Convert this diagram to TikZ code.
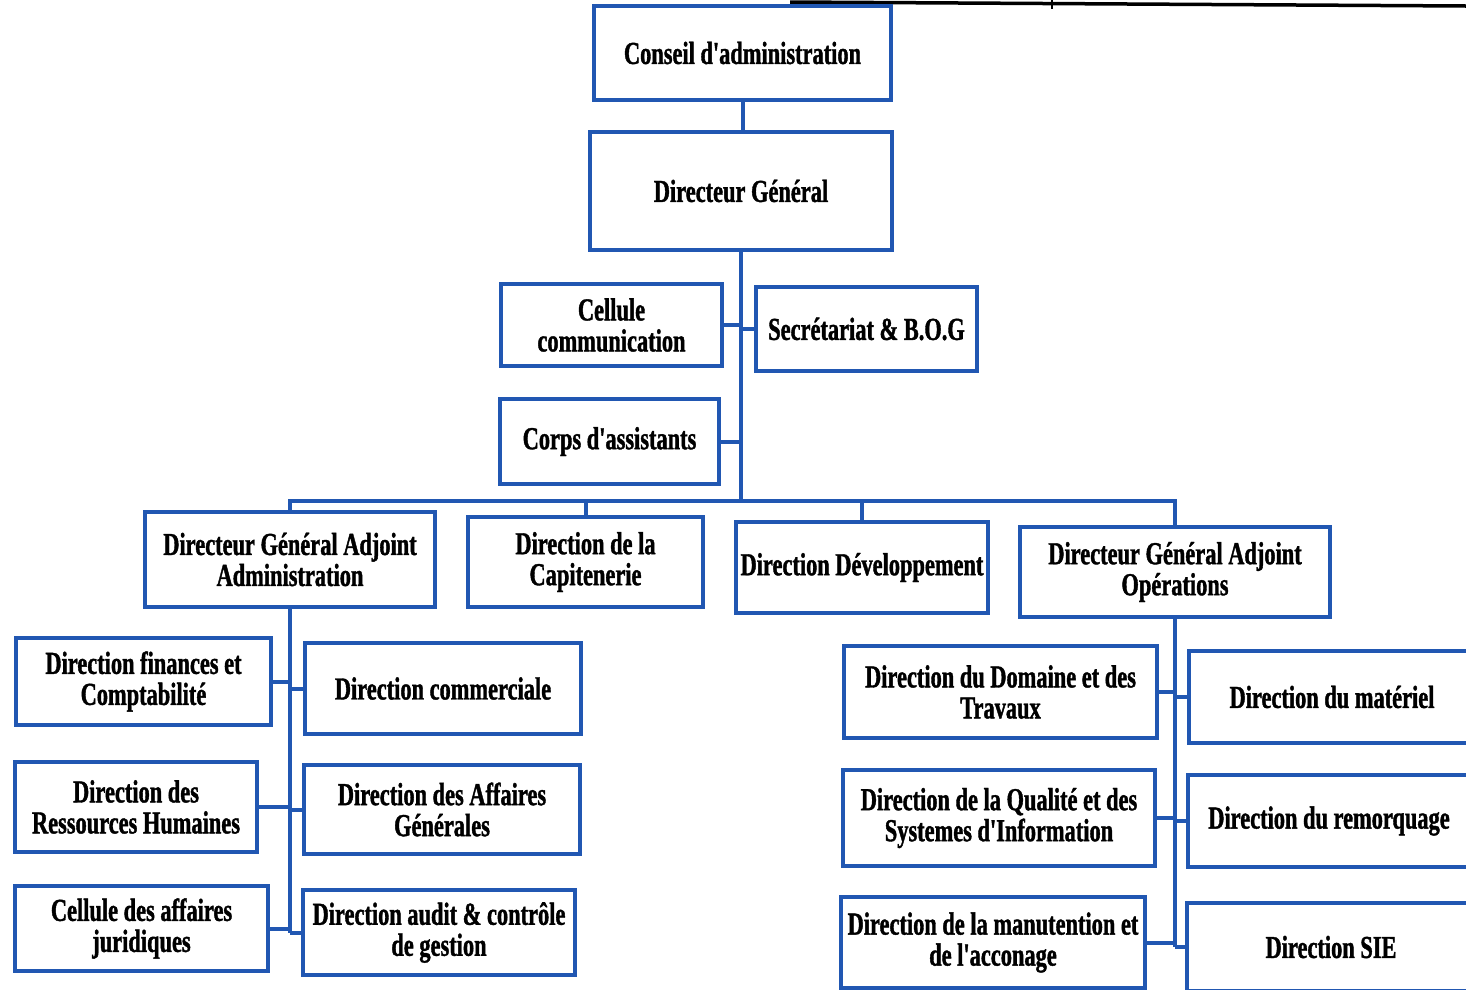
\documentclass[tikz,border=0pt]{standalone}
\usepackage{fontspec}
\newfontfamily\orgfont[FakeStretch=0.70,FakeBold=1.2,UprightFont=* Bold]{Liberation Serif}
\definecolor{orgblue}{RGB}{33,87,178}
\begin{document}
\begin{tikzpicture}[x=1pt,y=-1pt,
  box/.style={draw=orgblue, line width=4pt, align=center, inner sep=0pt,
    fill=white, font=\orgfont\fontsize{32}{31}\selectfont},
  link/.style={draw=orgblue, line width=4pt}]
\useasboundingbox (0,0) rectangle (1466,989);
\clip (0,0) rectangle (1466,989);
\fill[white] (0,0) rectangle (1466,989);

% rule of the page heading above the chart
\draw[line width=3.5pt] (790,2) -- (1466,6);
\draw[line width=2pt] (1052,0) -- (1052,9);

% top of the hierarchy
\node[box, minimum width=297, minimum height=94] (ca) at (742.5,53) {Conseil d'administration};
\node[box, minimum width=302, minimum height=118] (dg) at (741,191) {Directeur Général};

% staff units attached to the general director
\node[box, minimum width=221, minimum height=82] (cc) at (611.5,325) {Cellule\\communication};
\node[box, minimum width=221, minimum height=84] (sec) at (866.5,329) {Secrétariat \& B.O.G};
\node[box, minimum width=219, minimum height=85] (corps) at (609.5,441.5) {Corps d'assistants};

% second level
\node[box, minimum width=290, minimum height=95] (dgaa) at (290,559.5) {Directeur Général Adjoint\\Administration};
\node[box, minimum width=235, minimum height=90] (cap) at (585.5,562) {Direction de la\\Capitenerie};
\node[box, minimum width=252, minimum height=91] (dev) at (862,567.5) {Direction Développement};
\node[box, minimum width=310, minimum height=90] (dgao) at (1175,572) {Directeur Général Adjoint\\Opérations};

% administration branch
\node[box, minimum width=255, minimum height=87] (fin) at (143.5,681.5) {Direction finances et\\Comptabilité};
\node[box, minimum width=276, minimum height=91] (com) at (443,688.5) {Direction commerciale};
\node[box, minimum width=242, minimum height=90] (rh) at (136,807) {Direction des\\Ressources Humaines};
\node[box, minimum width=276, minimum height=89] (ag) at (442,809.5) {Direction des Affaires\\Générales};
\node[box, minimum width=253, minimum height=85] (jur) at (141.5,928.5) {Cellule des affaires\\juridiques};
\node[box, minimum width=272, minimum height=85] (aud) at (439,932.5) {Direction audit \& contrôle\\de gestion};

% operations branch
\node[box, minimum width=313, minimum height=92] (dom) at (1000.5,692) {Direction du Domaine et des\\Travaux};
\node[box, minimum width=286, minimum height=92] (mat) at (1332,697) {Direction du matériel};
\node[box, minimum width=312, minimum height=96] (qual) at (999,818) {Direction de la Qualité et des\\Systemes d'Information};
\node[box, minimum width=282, minimum height=92] (rem) at (1329,821) {Direction du remorquage};
\node[box, minimum width=304, minimum height=91] (man) at (993,942.5) {Direction de la manutention et\\de l'acconage};
\node[box, minimum width=288, minimum height=88] (sie) at (1331,947) {Direction SIE};

% connectors
\coordinate (bus) at (0,501);
\draw[link] (ca.south) -- (ca.south |- dg.north);
\draw[link] (dg.south) -- (dg.south |- bus);
\draw[link] (cc.east) -- (cc.east -| dg.south);
\draw[link] (sec.west) -- (sec.west -| dg.south);
\draw[link] (corps.east) -- (corps.east -| dg.south);
\draw[link] (dgaa.north) -- (dgaa.north |- bus) -- (dgao.north |- bus) -- (dgao.north);
\draw[link] (cap.north) -- (cap.north |- bus);
\draw[link] (dev.north) -- (dev.north |- bus);

\draw[link] (dgaa.south) -- (dgaa.south |- aud.west);
\draw[link] (fin.east) -- (fin.east -| dgaa.south);
\draw[link] (com.west) -- (com.west -| dgaa.south);
\draw[link] (rh.east) -- (rh.east -| dgaa.south);
\draw[link] (ag.west) -- (ag.west -| dgaa.south);
\draw[link] (jur.east) -- (jur.east -| dgaa.south);
\draw[link] (aud.west) -- (aud.west -| dgaa.south);

\draw[link] (dgao.south) -- (dgao.south |- sie.west);
\draw[link] (dom.east) -- (dom.east -| dgao.south);
\draw[link] (mat.west) -- (mat.west -| dgao.south);
\draw[link] (qual.east) -- (qual.east -| dgao.south);
\draw[link] (rem.west) -- (rem.west -| dgao.south);
\draw[link] (man.east) -- (man.east -| dgao.south);
\draw[link] (sie.west) -- (sie.west -| dgao.south);
\end{tikzpicture}
\end{document}
